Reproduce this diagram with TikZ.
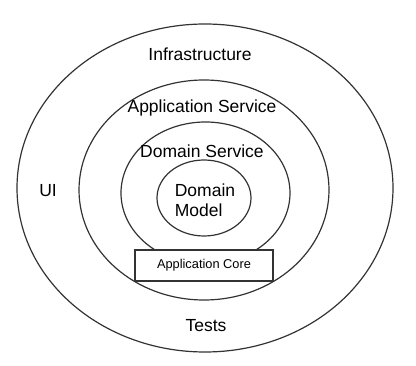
\documentclass[tikz,border=0pt]{standalone}
\usepackage{fontspec}
\setmainfont{Liberation Sans}
\usepackage{xcolor}
\usepackage{tikz}

\begin{document}
\begin{tikzpicture}[x=1pt,y=-1pt,
    ring/.style={draw=black!80, line width=1.2pt},
    layer/.style={font=\fontsize{17.5}{20}\selectfont, inner sep=0pt},
    corebox/.style={draw=black!80, line width=1.2pt, fill=white, rectangle,
        minimum width=138pt, minimum height=31pt,
        font=\fontsize{12.8}{14}\selectfont}]
    \useasboundingbox (0,0) rectangle (416,366);

    % Rings, outside to inside
    \draw[ring] (205,188) ellipse [x radius=188, y radius=164];
    \draw[ring] (204,190) ellipse [x radius=125, y radius=110];
    \draw[ring] (205.5,193) ellipse [x radius=84.5, y radius=71];
    \draw[ring] (204,198) ellipse [x radius=47, y radius=38];

    % Layer names
    \node[layer] (infra) at (200,54) {Infrastructure};
    \node[layer] (appsvc) at (202,108) {Application Service};
    \node[layer] (domsvc) at (202,151) {Domain Service};
    \node[layer, align=left] (model) at (205,200) {Domain\\Model};
    \node[layer] (ui) at (48,191) {UI};
    \node[layer] (tests) at (206,326) {Tests};

    % Core label
    \node[corebox] (core) at (204,265.5) {Application Core};
\end{tikzpicture}
\end{document}
